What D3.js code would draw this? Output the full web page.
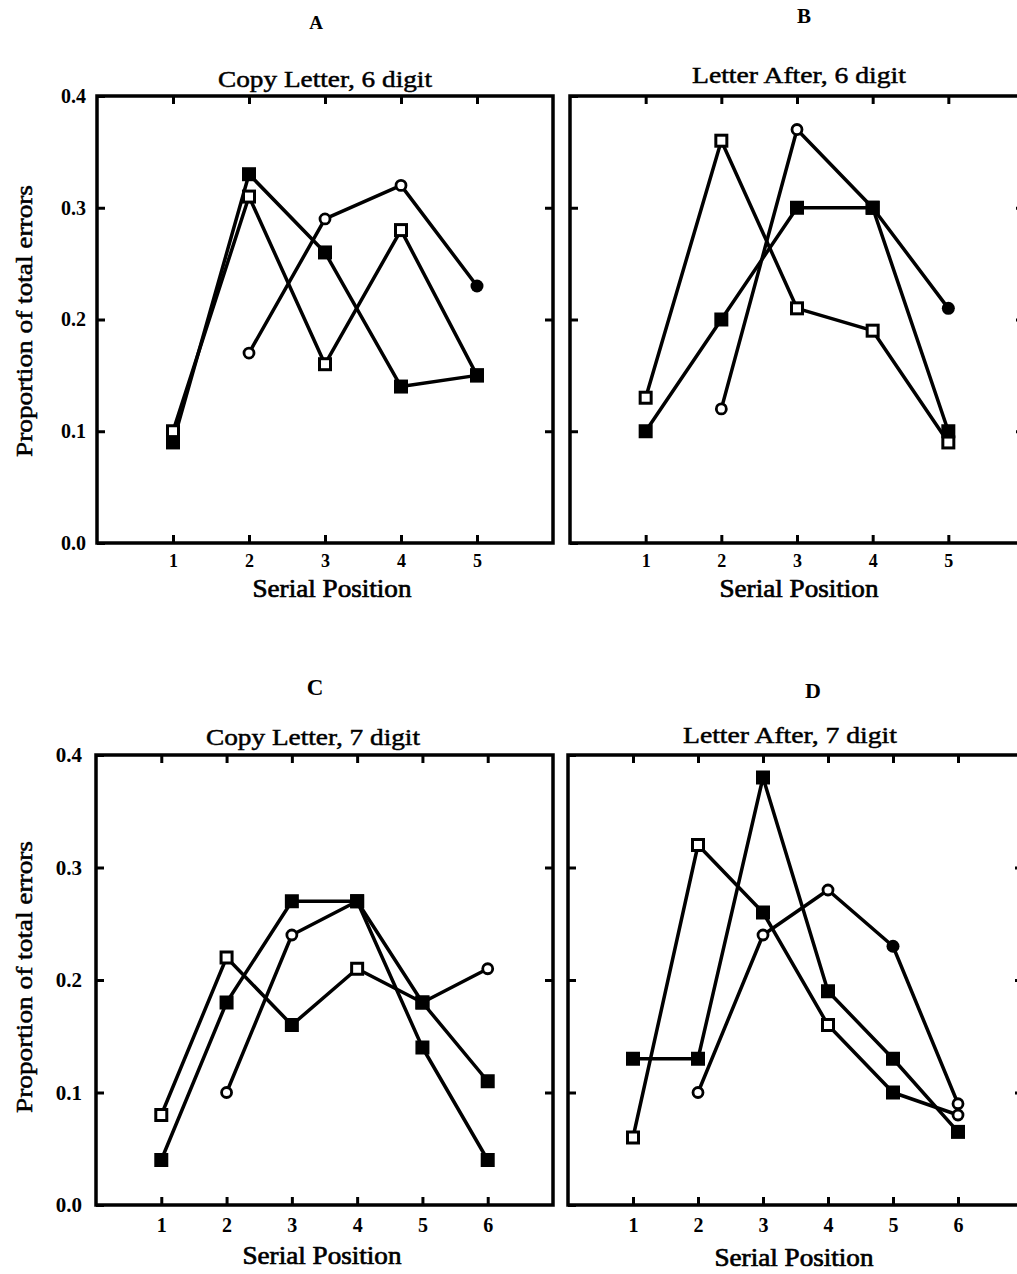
<!DOCTYPE html>
<html><head><meta charset="utf-8">
<script src="https://cdn.jsdelivr.net/npm/d3@7"></script>
<style>
body{margin:0;background:#fff;}
svg{display:block;}
text{font-family:"Liberation Serif","Times New Roman",serif;fill:#000;}
</style></head>
<body>
<svg id="c" width="1017" height="1274"></svg>
<script>
// ---------- data ----------
const yTickValues = [0.0, 0.1, 0.2, 0.3, 0.4];
const yTickLabels = ["0.0", "0.1", "0.2", "0.3", "0.4"];
const pos6 = [1, 2, 3, 4, 5];
const pos7 = [1, 2, 3, 4, 5, 6];

// Panel A: Copy Letter, 6 digit
const aOpenSq   = [0.10, 0.31, 0.16, 0.28, 0.15];
const aFilledSq = [0.09, 0.33, 0.26, 0.14, 0.15];
const aCircle   = [null, 0.17, 0.29, 0.32, 0.23];
const aOpenSqMk   = ["os","os","os","os","fs"];
const aFilledSqMk = ["fs","fs","fs","fs","fs"];
const aCircleMk   = [null,"oc","oc","oc","fc"];

// Panel B: Letter After, 6 digit
const bOpenSq   = [0.13, 0.36, 0.21, 0.19, 0.09];
const bFilledSq = [0.10, 0.20, 0.30, 0.30, 0.10];
const bCircle   = [null, 0.12, 0.37, 0.30, 0.21];
const bOpenSqMk   = ["os","os","os","os","os"];
const bFilledSqMk = ["fs","fs","fs","fs","fs"];
const bCircleMk   = [null,"oc","oc","fs","fc"];

// Panel C: Copy Letter, 7 digit
const cOpenSq   = [0.08, 0.22, 0.16, 0.21, 0.18, 0.21];
const cFilledSq = [0.04, 0.18, 0.27, 0.27, 0.14, 0.04];
const cCircle   = [null, 0.10, 0.24, 0.27, 0.18, 0.11];
const cOpenSqMk   = ["os","os","fs","os","fs","oc"];
const cFilledSqMk = ["fs","fs","fs","fs","fs","fs"];
const cCircleMk   = [null,"oc","oc","fs","fs","fs"];

// Panel D: Letter After, 7 digit
const dOpenSq   = [0.06, 0.32, 0.26, 0.16, 0.10, 0.08];
const dFilledSq = [0.13, 0.13, 0.38, 0.19, 0.13, 0.065];
const dCircle   = [null, 0.10, 0.24, 0.28, 0.23, 0.09];
const dOpenSqMk   = ["os","os","fs","os","fs","oc"];
const dFilledSqMk = ["fs","fs","fs","fs","fs","fs"];
const dCircleMk   = [null,"oc","oc","oc","fc","oc"];

const panelLetters = ["A", "B", "C", "D"];
const panelTitles = ["Copy Letter, 6 digit", "Letter After, 6 digit", "Copy Letter, 7 digit", "Letter After, 7 digit"];
const xLabel = "Serial Position";
const yLabel = "Proportion of total errors";

// ---------- layout ----------
const panels = [
  {x0:97, x1:553, yTop:96, yBot:543, xmax:6, pos:pos6, series:[[aOpenSq,aOpenSqMk],[aFilledSq,aFilledSqMk],[aCircle,aCircleMk]],
   letter:[316,29,19], title:[325,87], xl:[332,597], ylab:true, ylc:321, tick:18, ytick:20, ypad:11, xpad:11},
  {x0:570, x1:1024, yTop:96, yBot:543, xmax:6, pos:pos6, series:[[bOpenSq,bOpenSqMk],[bFilledSq,bFilledSqMk],[bCircle,bCircleMk]],
   letter:[804,23,21], title:[799,83], xl:[799,597], ylab:false, tick:18, ytick:20, ypad:11, xpad:11},
  {x0:96, x1:553, yTop:755, yBot:1205, xmax:7, pos:pos7, series:[[cOpenSq,cOpenSqMk],[cFilledSq,cFilledSqMk],[cCircle,cCircleMk]],
   letter:[315,695,23], title:[313,745], xl:[322,1264], ylab:true, ylc:977, tick:20, ytick:21, ypad:14, xpad:13},
  {x0:568, x1:1023, yTop:755, yBot:1205, xmax:7, pos:pos7, series:[[dOpenSq,dOpenSqMk],[dFilledSq,dFilledSqMk],[dCircle,dCircleMk]],
   letter:[813,698,22], title:[790,743], xl:[794,1266], ylab:false, tick:20, ytick:21, ypad:14, xpad:13}
];

const svg = d3.select("#c");

panels.forEach((p, i) => {
  const x = d3.scaleLinear().domain([0, p.xmax]).range([p.x0, p.x1]);
  const y = d3.scaleLinear().domain([0, 0.4]).range([p.yBot, p.yTop]);
  const g = svg.append("g");

  // frame
  g.append("rect").attr("x", p.x0).attr("y", p.yTop).attr("width", p.x1 - p.x0).attr("height", p.yBot - p.yTop)
    .attr("fill", "none").attr("stroke", "#000").attr("stroke-width", 3.5);

  // axes (inward ticks)
  const left = d3.axisLeft(y).tickValues(yTickValues).tickSize(-8).tickPadding(p.ypad)
    .tickFormat((d, k) => p.ylab ? yTickLabels[k] : "");
  const right = d3.axisRight(y).tickValues([0.1,0.2,0.3]).tickSize(-8).tickFormat("");
  const bottom = d3.axisBottom(x).tickValues(p.pos).tickSize(-8).tickPadding(p.xpad).tickFormat(d3.format("d"));
  const top = d3.axisTop(x).tickValues(p.pos).tickSize(-8).tickFormat("");

  [[left, `translate(${p.x0},0)`, p.ytick], [right, `translate(${p.x1},0)`, 10], [bottom, `translate(0,${p.yBot})`, p.tick], [top, `translate(0,${p.yTop})`, 10]]
    .forEach(([ax, tr, fs]) => {
      const a = g.append("g").attr("transform", tr).call(ax);
      a.select(".domain").remove();
      a.selectAll("line").attr("stroke", "#000").attr("stroke-width", 3);
      a.selectAll("text").attr("font-size", fs).attr("font-weight", "bold").attr("fill", "#000")
        .attr("font-family", "Liberation Serif, serif");
    });

  // lines
  const line = d3.line().defined(d => d[1] != null).x(d => x(d[0])).y(d => y(d[1]));
  p.series.forEach(([vals]) => {
    const pts = p.pos.map((ps, k) => [ps, vals[k]]);
    g.append("path").attr("d", line(pts)).attr("fill", "none").attr("stroke", "#000")
      .attr("stroke-width", 3.5).attr("stroke-linejoin", "round");
  });
  // markers
  p.series.forEach(([vals, mks]) => {
    p.pos.forEach((ps, k) => {
      const v = vals[k], m = mks[k];
      if (v == null || !m) return;
      const cx = x(ps), cy = y(v);
      if (m === "os" || m === "fs") {
        g.append("rect").attr("x", cx - 5.5).attr("y", cy - 5.5).attr("width", 11).attr("height", 11)
          .attr("fill", m === "fs" ? "#000" : "#fff").attr("stroke", "#000").attr("stroke-width", 3);
      } else {
        g.append("circle").attr("cx", cx).attr("cy", cy).attr("r", m === "fc" ? 6.5 : 5)
          .attr("fill", m === "fc" ? "#000" : "#fff").attr("stroke", "#000").attr("stroke-width", m === "fc" ? 0 : 2.8);
      }
    });
  });

  // texts
  svg.append("text").attr("x", p.letter[0]).attr("y", p.letter[1]).attr("text-anchor", "middle")
    .attr("font-size", p.letter[2]).attr("font-weight", "bold").text(panelLetters[i]);
  svg.append("text").attr("x", p.title[0]).attr("y", p.title[1]).attr("text-anchor", "middle")
    .attr("font-size", 24).attr("stroke", "#000").attr("stroke-width", 0.5)
    .attr("textLength", 214).attr("lengthAdjust", "spacingAndGlyphs").text(panelTitles[i]);
  svg.append("text").attr("x", p.xl[0]).attr("y", p.xl[1]).attr("text-anchor", "middle")
    .attr("font-size", 26).attr("stroke", "#000").attr("stroke-width", 0.7)
    .attr("textLength", 159).attr("lengthAdjust", "spacingAndGlyphs").text(xLabel);
  if (p.ylab) {
    svg.append("text").attr("transform", `translate(32,${p.ylc}) rotate(-90)`).attr("text-anchor", "middle")
      .attr("font-size", 24).attr("stroke", "#000").attr("stroke-width", 0.5)
      .attr("textLength", 272).attr("lengthAdjust", "spacingAndGlyphs").text(yLabel);
  }
});
</script>
</body></html>
